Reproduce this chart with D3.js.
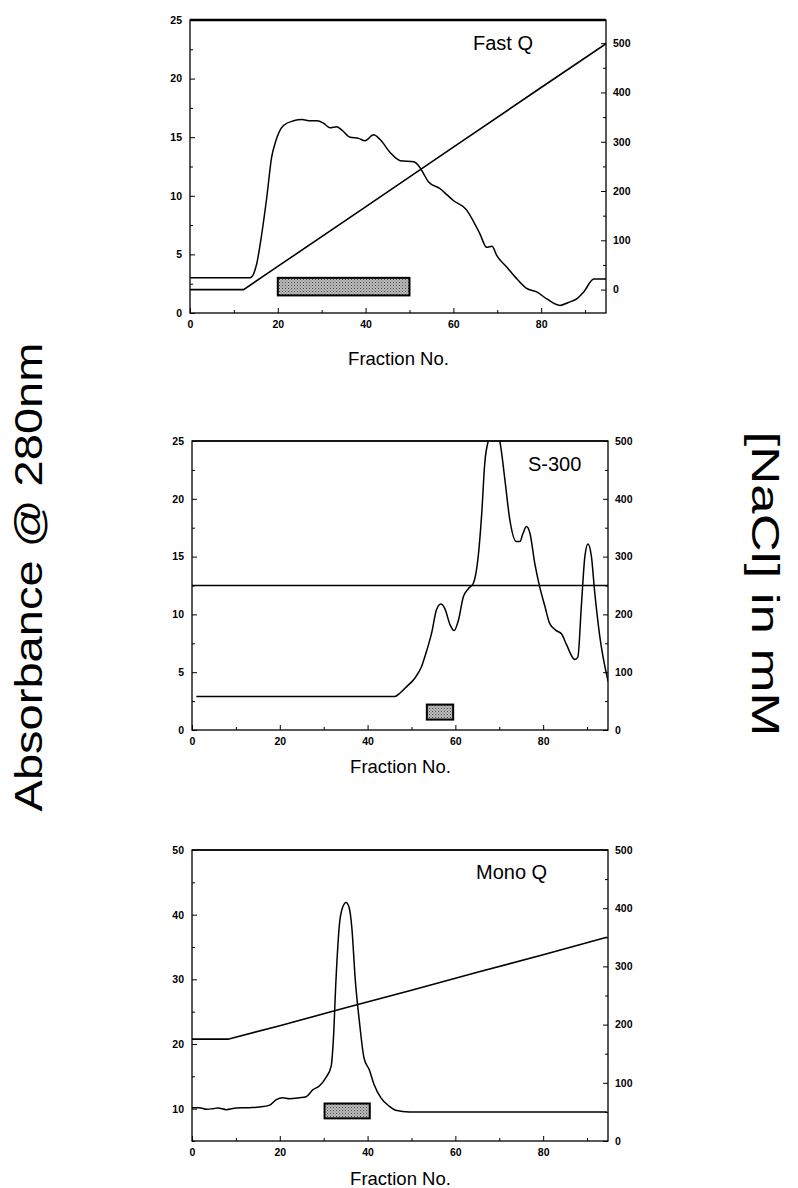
<!DOCTYPE html>
<html>
<head>
<meta charset="utf-8">
<script src="https://cdn.jsdelivr.net/npm/d3@7"></script>
<style>
body { margin: 0; background: #fff; }
text { font-family: Arial, "Liberation Sans", Helvetica, sans-serif; fill: #000; }
.tick text { font-weight: bold; font-size: 10.5px; }
.tick line { stroke: #000; stroke-width: 1; }
</style>
</head>
<body>
<div id="chart"></div>
<script>
// ---- data ----
// Fast Q
var fastQFrac = [0,13.7,15.2,16,17.5,18.6,19.4,21.3,23.6,25.5,27.4,28.9,30.4,31.9,33.4,34.6,36.5,38.4,39.9,41.8,43.3,45.6,47.9,51,52,53.2,54.3,57,58.5,60,63,64.6,66,67.6,68.8,69.9,72.2,74.5,76.7,79,81.3,84.3,86.2,88.1,89.7,92,95];
var fastQAbs  = [3,3,4.2,5.9,9.9,13.3,14.5,16,16.4,16.5,16.4,16.4,16.2,15.8,15.9,15.6,15,14.9,14.7,15.2,14.8,13.7,13,12.9,12.6,11.9,11.2,10.6,10.1,9.6,8.8,7.8,6.8,5.6,5.7,4.9,3.9,2.9,2.1,1.8,1.2,0.65,0.9,1.2,1.8,2.9,2.9];
var fastQSaltFrac = [0,12.2,20,40,60,80,95];
var fastQSalt     = [0,0,47,168,289,410,500];
var fastQPool = [20, 50, 1.5, 3.0];   // fraction from, to, abs low, high

// S-300
var s300Frac = [1,46.2,47.4,48.9,50.8,52.3,53.5,54.6,55.7,56.7,57.6,58.8,59.7,60.7,61.8,62.9,64.1,65.2,66,66.7,67.5,68.8,70.1,71.3,72.4,73.9,74.7,75.4,76.2,77,78.1,79.2,80.4,81.5,83,84.2,85.3,87.2,87.9,88.7,89.5,90.2,91,91.7,92.9,94.8];
var s300Abs  = [2.9,2.9,3.2,3.75,4.5,5.5,6.9,8.4,10.4,10.9,10.5,9.1,8.6,9.5,11.5,12.2,12.7,15,18.7,23.1,25,26,25,21.6,18.2,16.3,16.3,17,17.6,17,14.4,12.4,10.7,9.2,8.6,8.3,7.4,6.1,6.3,10.7,15,16.1,15,12.1,8.1,4.2];
var s300SaltFrac = [0,95];
var s300Salt     = [250,250];
var s300Pool = [53.5, 59.5, 0.9, 2.2];

// Mono Q
var monoQFrac = [0,1.7,3.3,4.8,5.9,7.8,10.1,13.1,15.4,17.7,19.2,20.7,22.2,24.5,26,27.5,29,30.5,31.7,32.2,32.8,33.6,34.3,35.1,35.8,36.4,37.2,38.1,39.2,40.4,41.5,43,44.9,46.4,49.5,94.5];
var monoQAbs  = [10.15,10.15,9.9,10,10.1,9.85,10.1,10.15,10.25,10.55,11.4,11.7,11.55,11.7,11.85,12.9,13.5,14.8,16.55,20.6,29.9,38.6,41.1,41.9,41.1,38.1,29.9,23.7,17.8,16,13.7,11.7,10.4,9.75,9.5,9.5];
var monoQSaltFrac = [0,8.2,20,35,50,65,80,94.5];
var monoQSalt     = [175,175,198,229,259,290,320,350];
var monoQPool = [30.2, 40.5, 8.5, 10.8];

// tick values
var fracTicks = [0,20,40,60,80], fracMinor = [10,30,50,70,90];
var absTicks25 = [0,5,10,15,20,25], absMinor25 = [2.5,7.5,12.5,17.5,22.5];
var absTicks50 = [10,20,30,40,50], absMinor50 = [5,15,25,35,45];
var saltTicks = [0,100,200,300,400,500], saltMinor = [-50,50,150,250,350,450];

// ---- layout ----
var width = 798, height = 1188;

var panels = [
	{ title: "Fast Q", frac: fastQFrac, abs: fastQAbs, saltFrac: fastQSaltFrac, salt: fastQSalt, pool: fastQPool,
	  x0: 190, x1: 607, y0: 20, y1: 313, absDomain: [0,25], saltDomain: [-47.5,547],
	  absTicks: absTicks25, absMinor: absMinor25, titleX: 473, titleY: 50, labelY: 365, topWidth: 2.5 },
	{ title: "S-300", frac: s300Frac, abs: s300Abs, saltFrac: s300SaltFrac, salt: s300Salt, pool: s300Pool,
	  x0: 192, x1: 609, y0: 441, y1: 730, absDomain: [0,25], saltDomain: [0,500],
	  absTicks: absTicks25, absMinor: absMinor25, titleX: 528, titleY: 471, labelY: 773, topWidth: 1.5 },
	{ title: "Mono Q", frac: monoQFrac, abs: monoQAbs, saltFrac: monoQSaltFrac, salt: monoQSalt, pool: monoQPool,
	  x0: 192, x1: 609, y0: 850, y1: 1141, absDomain: [5,50], saltDomain: [0,500],
	  absTicks: absTicks50, absMinor: absMinor50, titleX: 476, titleY: 879, labelY: 1185, topWidth: 1.5 }
];

var svg = d3.select("#chart")
	.append("svg")
	.attr("width", width)
	.attr("height", height);

// dotted grey fill for the pooled-fraction bars
var pat = svg.append("defs").append("pattern")
	.attr("id", "dots")
	.attr("width", 3).attr("height", 3)
	.attr("patternUnits", "userSpaceOnUse");
pat.append("rect").attr("width", 3).attr("height", 3).attr("fill", "#bdbdbd");
pat.append("rect").attr("width", 1).attr("height", 1).attr("fill", "#444");
pat.append("rect").attr("x", 1.5).attr("y", 1.5).attr("width", 1).attr("height", 1).attr("fill", "#666");

panels.forEach(function(p, i) {
	var right = p.x1 - 1;
	var x = d3.scaleLinear().domain([0,95]).range([p.x0, p.x1]);
	var yA = d3.scaleLinear().domain(p.absDomain).range([p.y1, p.y0]);
	var yS = d3.scaleLinear().domain(p.saltDomain).range([p.y1, p.y0]);

	var g = svg.append("g").attr("class", "panel");

	svg.select("defs").append("clipPath")
		.attr("id", "clip" + i)
		.append("rect")
		.attr("x", p.x0).attr("y", p.y0)
		.attr("width", right - p.x0).attr("height", p.y1 - p.y0);

	// axes, ticks pointing inward
	g.append("g")
		.attr("transform", "translate(0," + p.y1 + ")")
		.call(d3.axisBottom(x).tickValues(fracTicks).tickSize(-5).tickPadding(8))
		.call(function(a) { a.select(".domain").remove(); });
	g.append("g")
		.attr("transform", "translate(0," + p.y1 + ")")
		.call(d3.axisBottom(x).tickValues(fracMinor).tickSize(-3).tickFormat(""))
		.call(function(a) { a.select(".domain").remove(); });

	g.append("g")
		.attr("transform", "translate(" + p.x0 + ",0)")
		.call(d3.axisLeft(yA).tickValues(p.absTicks).tickSize(-5).tickPadding(8))
		.call(function(a) { a.select(".domain").remove(); });
	g.append("g")
		.attr("transform", "translate(" + p.x0 + ",0)")
		.call(d3.axisLeft(yA).tickValues(p.absMinor).tickSize(-3).tickFormat(""))
		.call(function(a) { a.select(".domain").remove(); });

	g.append("g")
		.attr("transform", "translate(" + right + ",0)")
		.call(d3.axisRight(yS).tickValues(saltTicks).tickSize(-5).tickPadding(7))
		.call(function(a) { a.select(".domain").remove(); });
	g.append("g")
		.attr("transform", "translate(" + right + ",0)")
		.call(d3.axisRight(yS).tickValues(saltMinor.filter(function(v) { return v >= p.saltDomain[0]; })).tickSize(-3).tickFormat(""))
		.call(function(a) { a.select(".domain").remove(); });

	// frame
	g.append("rect")
		.attr("x", p.x0).attr("y", p.y0)
		.attr("width", right - p.x0).attr("height", p.y1 - p.y0)
		.attr("fill", "none").attr("stroke", "#000").attr("stroke-width", 1.3);
	g.append("line")
		.attr("x1", p.x0).attr("x2", right)
		.attr("y1", p.y0).attr("y2", p.y0)
		.attr("stroke", "#000").attr("stroke-width", p.topWidth);

	var plot = g.append("g").attr("clip-path", "url(#clip" + i + ")");

	// pooled fractions
	plot.append("rect")
		.attr("x", x(p.pool[0])).attr("y", yA(p.pool[3]))
		.attr("width", x(p.pool[1]) - x(p.pool[0]))
		.attr("height", yA(p.pool[2]) - yA(p.pool[3]))
		.attr("fill", "url(#dots)")
		.attr("stroke", "#000").attr("stroke-width", 2);

	// NaCl gradient
	var saltLine = d3.line()
		.x(function(d, j) { return x(p.saltFrac[j]); })
		.y(function(d) { return yS(d); });
	plot.append("path")
		.datum(p.salt)
		.attr("d", saltLine)
		.attr("fill", "none").attr("stroke", "#000").attr("stroke-width", 1.6);

	// absorbance trace
	var absLine = d3.line()
		.curve(d3.curveMonotoneX)
		.x(function(d, j) { return x(p.frac[j]); })
		.y(function(d) { return yA(d); });
	plot.append("path")
		.datum(p.abs)
		.attr("d", absLine)
		.attr("fill", "none").attr("stroke", "#000").attr("stroke-width", 1.5);

	g.append("text")
		.attr("x", p.titleX).attr("y", p.titleY)
		.style("font-size", "20px")
		.text(p.title);

	g.append("text")
		.attr("x", (p.x0 + p.x1) / 2).attr("y", p.labelY)
		.attr("text-anchor", "middle")
		.style("font-size", "18.5px")
		.text("Fraction No.");
});

svg.append("text")
	.attr("transform", "translate(42,577) rotate(-90)")
	.attr("text-anchor", "middle")
	.attr("textLength", 469)
	.attr("lengthAdjust", "spacingAndGlyphs")
	.style("font-size", "38px")
	.text("Absorbance @ 280nm");

svg.append("text")
	.attr("transform", "translate(752,584) rotate(90)")
	.attr("text-anchor", "middle")
	.attr("textLength", 305)
	.attr("lengthAdjust", "spacingAndGlyphs")
	.style("font-size", "38px")
	.text("[NaCl] in mM");
</script>
</body>
</html>
